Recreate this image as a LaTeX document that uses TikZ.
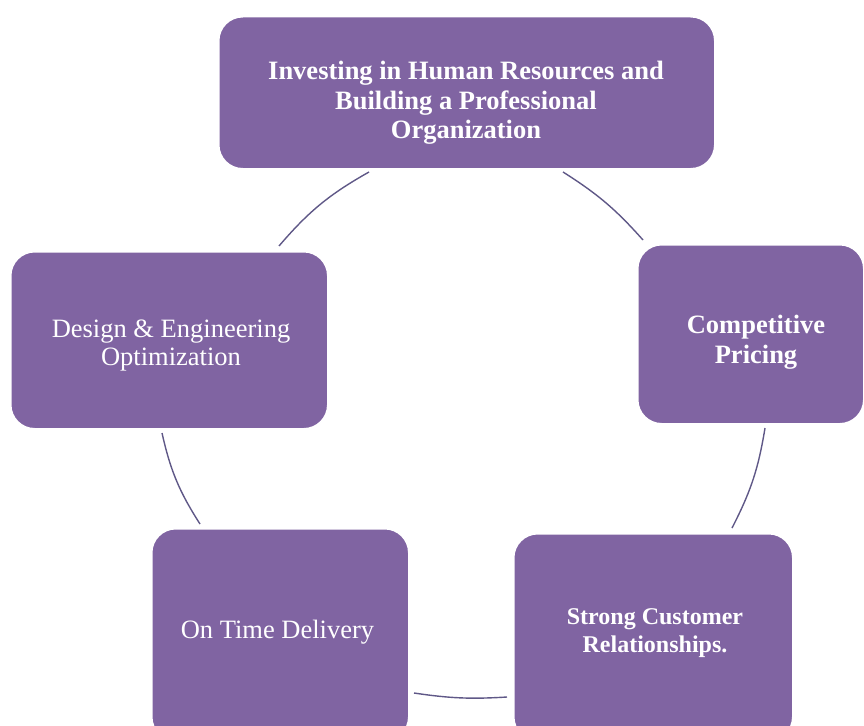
\documentclass[tikz,border=0pt]{standalone}
\usepackage{fontspec}
\setmainfont{Liberation Serif}
\definecolor{boxfill}{HTML}{8064A2}
\definecolor{arcline}{HTML}{5F5887}
\begin{document}
\begin{tikzpicture}[x=1pt,y=1pt,
  cyclebox/.style={rectangle, rounded corners=24pt, fill=boxfill, draw=white, line width=1.5pt, inner sep=0pt, anchor=north west},
  boxtext/.style={text=white, align=center, inner sep=0pt, font=\fontsize{26.5}{29.5}\selectfont},
  cyclearc/.style={draw=arcline, line width=1.4pt}]
\useasboundingbox (0,0) rectangle (864,-725);
\clip (0,0) rectangle (864,-725);
% boxes
\node[cyclebox, minimum width=496pt, minimum height=152pt] (top) at (218,-16) {};
\node[cyclebox, minimum width=317pt, minimum height=177pt] (left) at (10,-251) {};
\node[cyclebox, minimum width=226pt, minimum height=179pt] (right) at (637,-244) {};
\node[cyclebox, minimum width=257pt, minimum height=212pt] (botleft) at (151,-528) {};
\node[cyclebox, minimum width=279pt, minimum height=207pt] (botright) at (513,-533) {};
% texts
\node[boxtext] (toptext) at (466,-103) {\textbf{Investing in Human Resources and}\\\textbf{Building a Professional}\\\textbf{Organization}};
\node[boxtext, font=\fontsize{26.5}{28}\selectfont] (lefttext) at (171,-346) {Design \& Engineering\\Optimization};
\node[boxtext] (righttext) at (756,-342) {\textbf{Competitive}\\\textbf{Pricing}};
\node[boxtext] (botlefttext) at (277.5,-632) {On Time Delivery};
\node[boxtext, font=\fontsize{24}{28}\selectfont] (botrighttext) at (655,-633) {\textbf{Strong Customer}\\\textbf{Relationships.}};
% arc end points
\coordinate (a1s) at (279,-246);
\coordinate (a1e) at (369,-172);
\coordinate (a2s) at (563,-172);
\coordinate (a2e) at (643,-240);
\coordinate (a3s) at (765,-428);
\coordinate (a3e) at (732,-528);
\coordinate (a4s) at (507,-697);
\coordinate (a4e) at (414,-693);
\coordinate (a5s) at (200,-524);
\coordinate (a5e) at (162,-433);
% arcs
\draw[cyclearc] (a1s) to[bend left=10] (a1e);
\draw[cyclearc] (a2s) to[bend left=8] (a2e);
\draw[cyclearc] (a3s) to[bend left=9] (a3e);
\draw[cyclearc] (a4s) to[bend left=6] (a4e);
\draw[cyclearc] (a5s) to[bend left=10] (a5e);
\end{tikzpicture}
\end{document}
